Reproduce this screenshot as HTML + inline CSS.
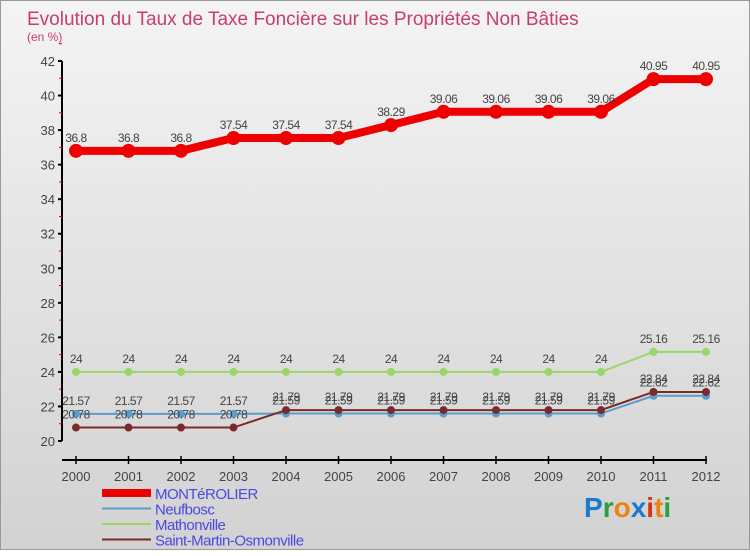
<!DOCTYPE html>
<html><head><meta charset="utf-8"><style>
body{margin:0;width:750px;height:550px;overflow:hidden;font-family:"Liberation Sans",sans-serif}
#c{position:absolute;left:0;top:0;width:748px;height:548px;border:1px solid #999;background:linear-gradient(#f4f4f4,#d2d2d2)}
</style></head><body>
<div id="c">
<svg id="s" width="750" height="550">
<text x="26" y="24" font-size="19" fill="#c83c6e">Evolution du Taux de Taxe Foncière sur les Propriétés Non Bâties</text>
<text x="26" y="40" font-size="12" fill="#c83c6e">(en %)</text>
</svg></div>
<script>
const years=[2000,2001,2002,2003,2004,2005,2006,2007,2008,2009,2010,2011,2012];
const montérolier=[36.8,36.8,36.8,37.54,37.54,37.54,38.29,39.06,39.06,39.06,39.06,40.95,40.95];
const neufbosc=[21.57,21.57,21.57,21.57,21.59,21.59,21.59,21.59,21.59,21.59,21.59,22.62,22.62];
const mathonville=[24,24,24,24,24,24,24,24,24,24,24,25.16,25.16];
const saintMartin=[20.78,20.78,20.78,20.78,21.79,21.79,21.79,21.79,21.79,21.79,21.79,22.84,22.84];
const yTicks=[20,22,24,26,28,30,32,34,36,38,40,42];
const seriesNames=["MONTéROLIER","Neufbosc","Mathonville","Saint-Martin-Osmonville"];
const s=document.getElementById('s'),NS="http://www.w3.org/2000/svg";
const X=i=>75+i*52.5, Y=v=>440-(v-20)*(380/22);
function mk(t,a,p){const e=document.createElementNS(NS,t);for(const k in a)e.setAttribute(k,a[k]);(p||s).appendChild(e);return e;}
let ax=mk('g',{});


mk('line',{x1:61,y1:Y(42),x2:61,y2:Y(20),stroke:'#000','stroke-width':2},ax);
mk('line',{x1:61,y1:459,x2:706,y2:459,stroke:'#000','stroke-width':2},ax);
yTicks.forEach(v=>{mk('line',{x1:57,x2:61,y1:Y(v),y2:Y(v),stroke:'#000','stroke-width':2},ax);
mk('line',{x1:58,x2:61,y1:Y(v+1),y2:Y(v+1),stroke:'#e00'},ax);
const t=mk('text',{x:54,y:Y(v)+5,'text-anchor':'end','font-size':13,fill:'#444'},ax);t.textContent=v;

});
years.forEach((y,i)=>{mk('line',{x1:X(i),x2:X(i),y1:455,y2:463,stroke:'#000','stroke-width':1.5},ax);
const t=mk('text',{x:X(i),y:480,'text-anchor':'middle','font-size':13,fill:'#444'},ax);t.textContent=y;

});
function series(d,col,lw,r,name,dy){const g=mk('g',{});


mk('polyline',{points:d.map((v,i)=>X(i)+','+Y(v)).join(' '),fill:'none',stroke:col,'stroke-width':lw},g);
d.forEach((v,i)=>{const c=mk('circle',{cx:X(i),cy:Y(v),r:r,fill:col},g);


const t=mk('text',{x:X(i),y:Y(v)+dy,'text-anchor':'middle','font-size':12,fill:'#444','letter-spacing':'-0.5'},g);t.textContent=v;});}
series(mathonville,'#9ad66a',2,4,'series-mathonville',-9);
series(neufbosc,'#5a9ccc',2,4,'series-neufbosc',-9);
series(saintMartin,'#7a2a2a',2,4,'series-saint-martin',-9);
series(montérolier,'#ee0000',8,7,'series-monterolier',-9);
const cols=['#ee0000','#5a9ccc','#9ad66a','#7a2a2a'],lws=[8,2,2,2];
seriesNames.forEach((n,i)=>{const g=mk('g',{});


const y=492+i*15.5;mk('line',{x1:101,x2:150,y1:y,y2:y,stroke:cols[i],'stroke-width':lws[i]},g);
const t=mk('text',{x:154,y:y+6,'font-size':15,fill:'#4a4ae0','letter-spacing':'-0.5'},g);t.textContent=n;});
const lg=mk('text',{x:583,y:516,'font-size':28,'font-weight':'bold'});


[['P','#1a7ad0'],['r','#2aa040'],['o','#f08010'],['x','#1a7ad0'],['i','#e03010'],['t','#f08010'],['i','#2aa040']].forEach(([c,f])=>{const sp=mk('tspan',{fill:f},lg);sp.textContent=c;});
</script>
</body></html>
